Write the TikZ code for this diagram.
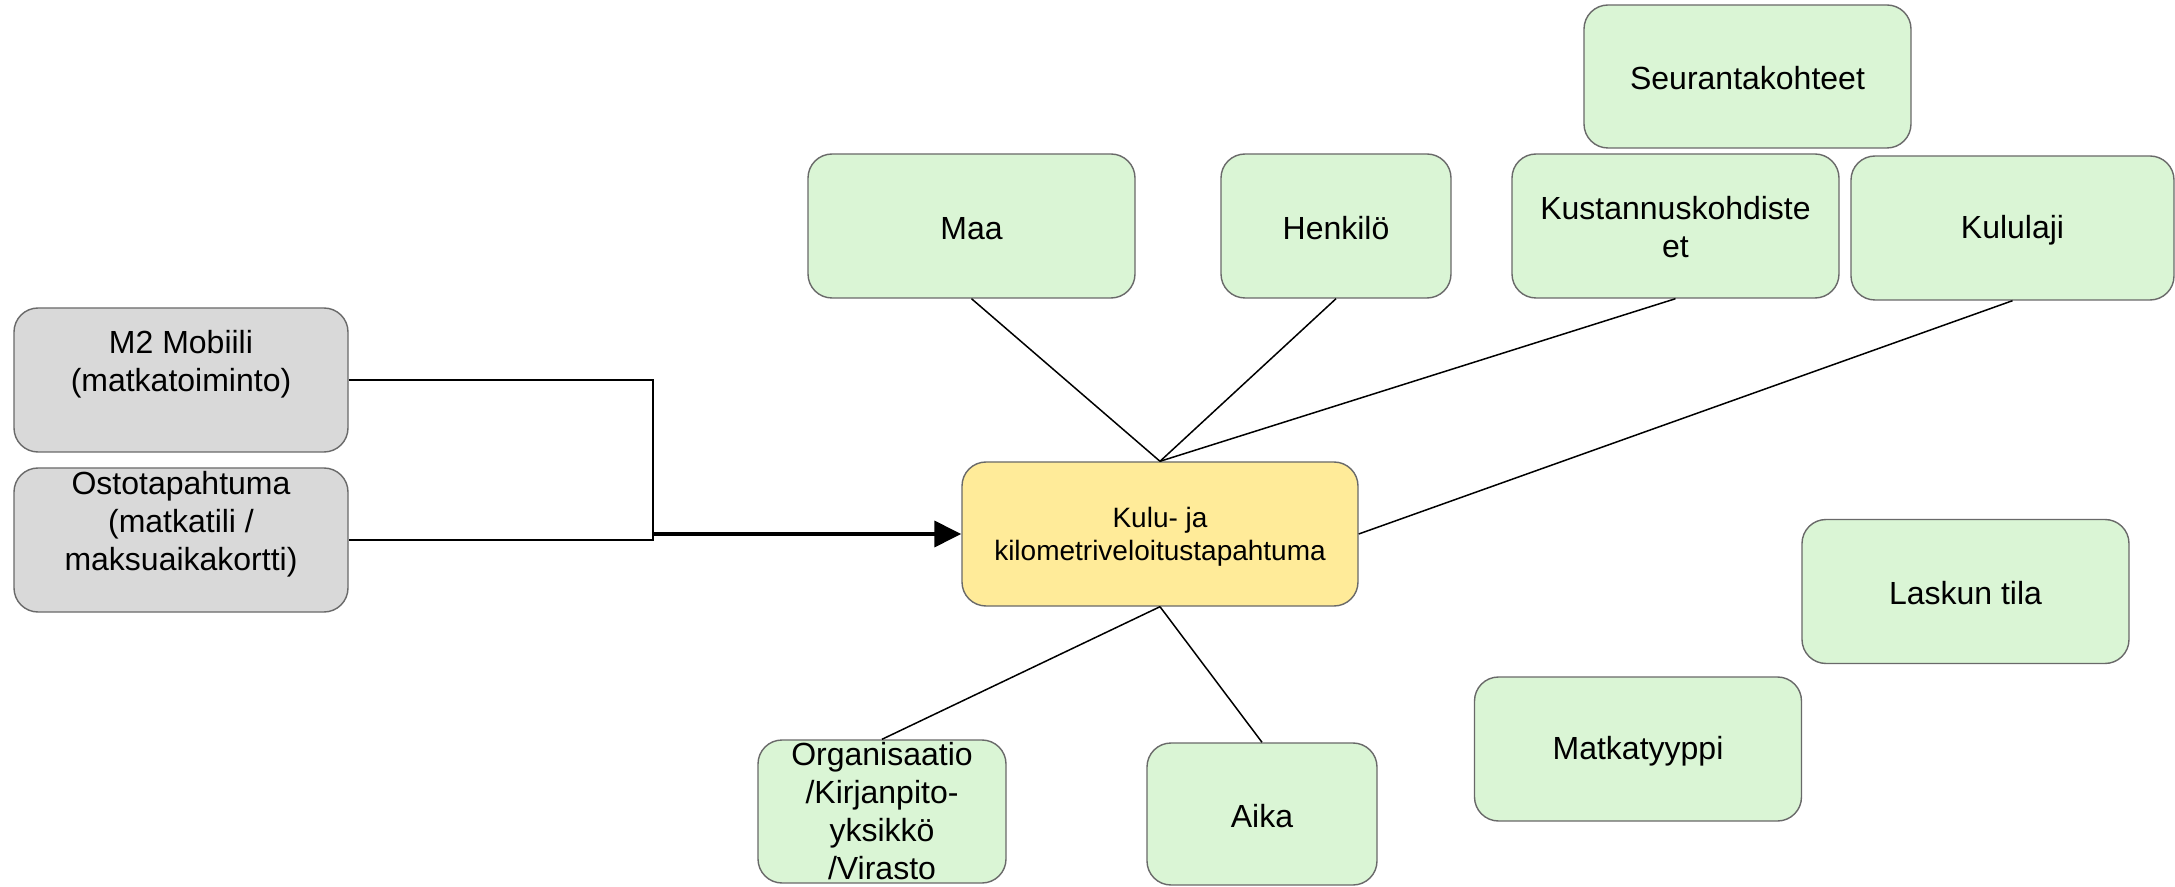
\documentclass[tikz,border=0pt]{standalone}
\usepackage{fontspec}
\setmainfont{Liberation Sans}
\usetikzlibrary{arrows.meta}
\definecolor{boxgreen}{RGB}{218,245,213}
\definecolor{boxgray}{RGB}{217,217,217}
\definecolor{boxyellow}{RGB}{255,235,153}
\definecolor{edgegray}{RGB}{105,105,105}
\newcommand{\topstrut}[1]{\rule{0pt}{#1}}
\begin{document}
\begin{tikzpicture}[x=0.5pt,y=-0.5pt,
  box/.style={draw=edgegray, line width=0.7pt, rounded corners=12pt, align=center,
    inner sep=0pt, font=\fontsize{16pt}{19pt}\selectfont, minimum height=72pt, minimum width=163.5pt},
  gbox/.style={box, fill=boxgreen},
  greybox/.style={box, fill=boxgray, minimum width=167pt},
  ybox/.style={box, fill=boxyellow, minimum width=198pt, font=\fontsize{14pt}{16.5pt}\selectfont},
  link/.style={draw=black, line width=0.75pt},
  feed/.style={draw=black, line width=1.4pt},
  arr/.style={draw=black, line width=1.8pt, -{Triangle[length=13.5pt,width=13pt]}}]
\useasboundingbox (0,0) rectangle (2175,887);

% source boxes
\node[greybox] (m2) at (181,380) {M2 Mobiili\\(matkatoiminto)\\\mbox{}};
\node[greybox] (ost) at (181,540) {Ostotapahtuma\\(matkatili /\\maksuaikakortti)\\\mbox{}};

% central box
\node[ybox] (cen) at (1160,534) {\topstrut{12.5pt}Kulu- ja\\kilometriveloitustapahtuma};

% dimension boxes
\node[gbox] (maa) at (971.5,226) {\topstrut{13.5pt}Maa};
\node[gbox, minimum width=115pt] (hen) at (1336,226) {\topstrut{13.5pt}Henkilö};
\node[gbox] (kus) at (1675.5,226) {\topstrut{12.5pt}Kustannuskohdiste\\et};
\node[gbox, minimum width=161.5pt] (kul) at (2012.5,228) {\topstrut{13.5pt}Kululaji};
\node[gbox, minimum height=71.5pt] (seu) at (1747.5,76.5) {\topstrut{13.5pt}Seurantakohteet};
\node[gbox] (las) at (1965.5,591.5) {\topstrut{13.5pt}Laskun tila};
\node[gbox] (mat) at (1638,749) {\topstrut{13.5pt}Matkatyyppi};
\node[gbox, minimum width=124pt, minimum height=71.5pt] (org) at (882,811.5) {Organisaatio\\/Kirjanpito-\\yksikkö\\/Virasto};
\node[gbox, minimum width=115pt, minimum height=71pt] (aik) at (1262,814) {\topstrut{13.5pt}Aika};

% feed connectors
\coordinate (j) at (653,540);
\draw[feed] (m2.east) -| (j) -- (ost.east);
\draw[arr] (j |- cen.west) -- (cen.west);

% dimension links
\draw[link] (maa.south) -- (cen.north);
\draw[link] (hen.south) -- (cen.north);
\draw[link] (kus.south) -- (cen.north);
\draw[link] (kul.south) -- (cen.east);
\draw[link] (cen.south) -- (org.north);
\draw[link] (cen.south) -- (aik.north);
\end{tikzpicture}
\end{document}
